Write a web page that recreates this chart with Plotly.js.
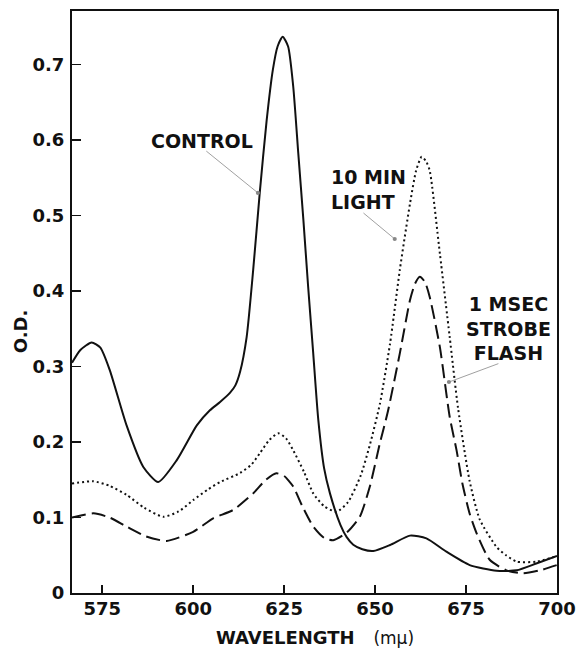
<!DOCTYPE html>
<html>
<head>
<meta charset="utf-8">
<script src="https://cdn.plot.ly/plotly-3.0.1.min.js"></script>
<style>html,body{margin:0;padding:0;background:#fff;}#chart{width:579px;height:649px;}</style>
</head>
<body>
<div id="chart"></div>
<script>
// Wavelength (mμ) and optical density readings for each curve
const controlX = [566.7,569,572.1,574.5,577.1,581.7,586.3,590.4,595.5,601,604.6,607.4,610.1,611.6,612.9,614.7,616.5,618.3,620.2,621.9,623.2,624.6,626.1,627.5,628.9,630.3,631.6,633.0,634.4,636.0,637.6,640.5,642.2,644,646.5,649.5,654.1,659.6,664.1,669.6,676.0,683.4,688.9,694.3,700];
const controlY = [0.305,0.322,0.332,0.325,0.295,0.222,0.167,0.147,0.176,0.222,0.242,0.253,0.265,0.275,0.293,0.339,0.428,0.530,0.626,0.693,0.724,0.737,0.724,0.671,0.582,0.494,0.406,0.3175,0.229,0.165,0.132,0.090,0.074,0.064,0.058,0.0556,0.0636,0.076,0.0724,0.0547,0.037,0.0295,0.030,0.039,0.049];

const lightX = [566.7,572.6,577,581.7,586.5,591.8,596,600,604,607.4,612.9,616,618.3,621,623.4,625.5,627.5,630.5,633,636,639.4,642.5,646,648.5,651.3,654.1,656.8,659.6,661.3,662.8,664,665,667.8,670.5,672.8,676,678.8,683.4,686,688.9,694.3,700];
const lightY = [0.145,0.148,0.142,0.130,0.113,0.101,0.108,0.123,0.137,0.147,0.159,0.170,0.185,0.203,0.2115,0.205,0.189,0.160,0.132,0.115,0.1077,0.120,0.155,0.195,0.250,0.330,0.428,0.516,0.560,0.578,0.572,0.560,0.450,0.3395,0.245,0.148,0.097,0.061,0.050,0.0415,0.0415,0.049];

const flashX = [566.7,572.6,577,581.7,587,592.7,600,605.5,611,616.5,620,622.9,625,627.5,630,633,636,638.5,642.2,645.8,648.5,651.3,653.5,656.8,659.6,661,662.3,663.7,665,667.8,670.5,672.4,674,676,678,681.5,686.1,690.7,695.3,700];
const flashY = [0.100,0.1055,0.100,0.088,0.075,0.069,0.081,0.099,0.110,0.132,0.150,0.1585,0.155,0.141,0.115,0.088,0.073,0.070,0.080,0.101,0.140,0.198,0.240,0.3175,0.388,0.410,0.419,0.412,0.3925,0.326,0.2335,0.189,0.145,0.105,0.078,0.044,0.030,0.026,0.030,0.037];

const xTicks = [575,600,625,650,675,700];
const yTicks = [0,0.1,0.2,0.3,0.4,0.5,0.6,0.7];
const yTickText = ['0','0.1','0.2','0.3','0.4','0.5','0.6','0.7'];

const FONT = 'DejaVu Sans';
const INK = '#111';

const traces = [
  {x: controlX, y: controlY, name: 'CONTROL', mode: 'lines',
   line: {color: INK, width: 2, shape: 'spline', smoothing: 0.6}},
  {x: lightX, y: lightY, name: '10 MIN LIGHT', mode: 'lines',
   line: {color: INK, width: 2, dash: '2px,3px', shape: 'spline', smoothing: 0.6}},
  {x: flashX, y: flashY, name: '1 MSEC STROBE FLASH', mode: 'lines',
   line: {color: INK, width: 2, dash: '14px,6px', shape: 'spline', smoothing: 0.6}}
];

const txt = {family: FONT, size: 19, color: INK, weight: 'bold'};
const tickFont = {family: FONT, size: 18, color: INK, weight: 'bold'};

const layout = {
  width: 579, height: 649,
  margin: {l: 72, r: 22, t: 11, b: 56},
  paper_bgcolor: '#fff', plot_bgcolor: '#fff',
  showlegend: false,
  xaxis: {
    range: [566.7, 700], tickvals: xTicks, ticktext: xTicks.map(String),
    ticks: 'inside', ticklen: 8, tickwidth: 2, tickcolor: INK,
    showline: true, linewidth: 2, linecolor: INK, mirror: true,
    showgrid: false, zeroline: false, ticklabelstandoff: -2,
    tickfont: tickFont
  },
  yaxis: {
    range: [0, 0.771], tickvals: yTicks, ticktext: yTickText,
    ticks: 'inside', ticklen: 9, tickwidth: 1.5, tickcolor: INK,
    showline: true, linewidth: 2, linecolor: INK, mirror: true,
    showgrid: false, zeroline: false, ticklabelstandoff: 2,
    tickfont: tickFont
  },
  annotations: [
    {xref: 'paper', yref: 'paper', x: 0.5, y: -0.077, xanchor: 'center', yanchor: 'middle',
     text: 'WAVELENGTH &nbsp;&nbsp;<span style="font-size:17px;font-weight:normal">(mμ)</span>', showarrow: false,
     font: {family: FONT, size: 18, color: INK, weight: 'bold'}},
    {xref: 'paper', yref: 'paper', x: -0.107, y: 0.45, xanchor: 'center', yanchor: 'middle',
     text: 'O.D.', textangle: -90, showarrow: false, font: {family: FONT, size: 18, color: INK, weight: 'bold'}},
    {x: 602.4, y: 0.599, text: 'CONTROL', showarrow: false, font: txt, xanchor: 'center', yanchor: 'middle'},
    {x: 637.4, y: 0.535, text: '10 MIN<br>LIGHT', showarrow: false, font: txt, xanchor: 'left', yanchor: 'middle', align: 'left'},
    {x: 686.6, y: 0.351, text: '1 MSEC<br>STROBE<br>FLASH', showarrow: false, font: txt, xanchor: 'center', yanchor: 'middle', align: 'center'},
    {x: 617.8, y: 0.530, ax: 603.2, ay: 0.587, axref: 'x', ayref: 'y', text: '', showarrow: true,
     arrowhead: 6, arrowsize: 1.3, arrowwidth: 0.8, arrowcolor: '#888'},
    {x: 655.4, y: 0.469, ax: 646.4, ay: 0.505, axref: 'x', ayref: 'y', text: '', showarrow: true,
     arrowhead: 6, arrowsize: 1.3, arrowwidth: 0.8, arrowcolor: '#888'},
    {x: 670.3, y: 0.2795, ax: 684.3, ay: 0.3046, axref: 'x', ayref: 'y', text: '', showarrow: true,
     arrowhead: 6, arrowsize: 1.3, arrowwidth: 0.8, arrowcolor: '#888'}
  ]
};

Plotly.newPlot('chart', traces, layout, {staticPlot: true, displayModeBar: false});
</script>
</body>
</html>
